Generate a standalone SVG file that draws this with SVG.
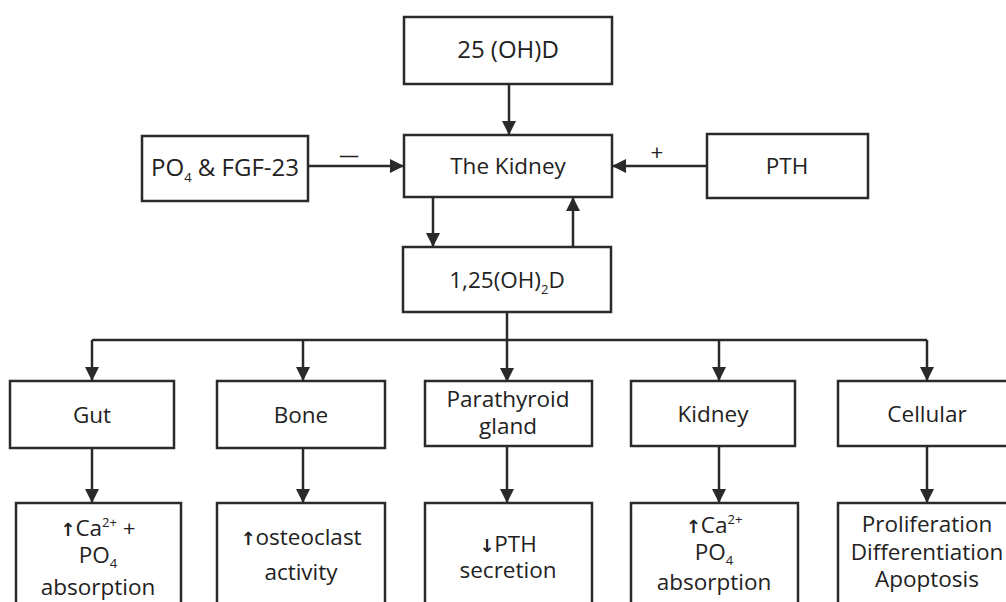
<svg xmlns="http://www.w3.org/2000/svg" width="1006" height="602" viewBox="0 0 1006 602">
<defs>
<marker id="ah" markerUnits="userSpaceOnUse" markerWidth="14" markerHeight="14" viewBox="0 0 10 10" refX="10" refY="5" orient="auto">
<path d="M0,0 L10,5 L0,10 z" fill="#2a2a2a"/>
</marker>
<style>
rect{fill:#fff;stroke:#2a2a2a;stroke-width:2.5}
text{font-family:"Open Sans","Liberation Sans",sans-serif;font-size:22.5px;fill:#222;text-anchor:middle}
.c line,.c path{stroke:#2a2a2a;stroke-width:2.5;fill:none}
.a{marker-end:url(#ah)}
.s{font-size:13px}
.ar{font-family:"DejaVu Sans",sans-serif;font-weight:bold;font-size:18px;fill:#222}
</style>
</defs>
<rect width="1006" height="602" style="fill:#fff;stroke:none"/>
<g class="c" id="connectors">
<line class="a" x1="509" y1="84" x2="509" y2="135"/>
<line class="a" x1="308" y1="166" x2="404" y2="166"/>
<line class="a" x1="707" y1="166" x2="612" y2="166"/>
<line class="a" x1="433" y1="197" x2="433" y2="247"/>
<line class="a" x1="573" y1="247" x2="573" y2="197"/>
<line class="a" x1="507" y1="312" x2="507" y2="382"/>
<line x1="92" y1="340" x2="927" y2="340"/>
<line class="a" x1="92" y1="340" x2="92" y2="381"/>
<line class="a" x1="303" y1="340" x2="303" y2="381"/>
<line class="a" x1="719" y1="340" x2="719" y2="381"/>
<line class="a" x1="927" y1="340" x2="927" y2="381"/>
<line class="a" x1="92" y1="448" x2="92" y2="503"/>
<line class="a" x1="303" y1="448" x2="303" y2="503"/>
<line class="a" x1="507" y1="446" x2="507" y2="503"/>
<line class="a" x1="719" y1="446" x2="719" y2="503"/>
<line class="a" x1="927" y1="446" x2="927" y2="503"/>
<text x="349" y="162" style="font-size:20px">—</text>
<text x="657" y="160">+</text>
</g>
<g id="n25ohd"><rect x="404" y="17" width="208" height="67"/><text x="508" y="58" style="font-size:24px">25 (OH)D</text></g>
<g id="kidney"><rect x="404" y="135" width="208" height="62"/><text x="508" y="174">The Kidney</text></g>
<g id="po4fgf"><rect x="142" y="136" width="166" height="65"/><text x="225" y="176" style="font-size:24px">PO<tspan class="s" dy="6">4</tspan><tspan dy="-6"> &amp; FGF-23</tspan></text></g>
<g id="pth"><rect x="707" y="134" width="161" height="64"/><text x="787" y="174">PTH</text></g>
<g id="calcitriol"><rect x="403" y="247" width="208" height="65"/><text x="507" y="288">1,25(OH)<tspan class="s" dy="6">2</tspan><tspan dy="-6">D</tspan></text></g>
<g id="gut"><rect x="10" y="381" width="164" height="67"/><text x="92" y="423">Gut</text></g>
<g id="bone"><rect x="217" y="381" width="168" height="67"/><text x="301" y="423">Bone</text></g>
<g id="parathyroid"><rect x="425" y="381" width="167" height="65"/><text x="508" y="407">Parathyroid</text><text x="508" y="434">gland</text></g>
<g id="kidney2"><rect x="631" y="381" width="164" height="65"/><text x="713" y="422">Kidney</text></g>
<g id="cellular"><rect x="838" y="381" width="178" height="65"/><text x="927" y="422">Cellular</text></g>
<g id="gutres"><rect x="16" y="503" width="165" height="110"/><text x="98" y="536"><tspan class="ar">↑</tspan>Ca<tspan class="s" dy="-9">2+</tspan><tspan dy="9"> +</tspan></text><text x="98" y="563">PO<tspan class="s" dy="5">4</tspan></text><text x="98" y="595">absorption</text></g>
<g id="boneres"><rect x="217" y="503" width="168" height="110"/><text x="301" y="545"><tspan class="ar">↑</tspan>osteoclast</text><text x="301" y="580">activity</text></g>
<g id="ptres"><rect x="425" y="503" width="167" height="110"/><text x="508" y="552"><tspan class="ar">↓</tspan>PTH</text><text x="508" y="578">secretion</text></g>
<g id="kidres"><rect x="631" y="503" width="167" height="110"/><text x="714" y="533"><tspan class="ar">↑</tspan>Ca<tspan class="s" dy="-9">2+</tspan></text><text x="714" y="560">PO<tspan class="s" dy="5">4</tspan></text><text x="714" y="590">absorption</text></g>
<g id="cellres"><rect x="838" y="503" width="178" height="110"/><text x="927" y="532">Proliferation</text><text x="927" y="560">Differentiation</text><text x="927" y="587">Apoptosis</text></g>
</svg>
